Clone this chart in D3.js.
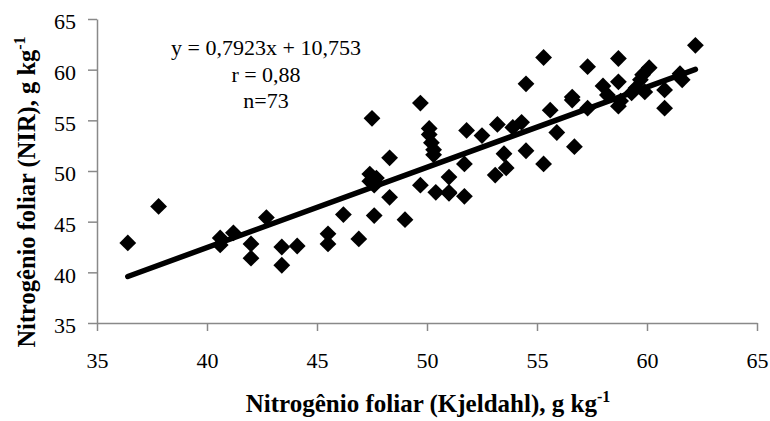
<!DOCTYPE html>
<html>
<head>
<meta charset="utf-8">
<script src="https://cdn.jsdelivr.net/npm/d3@7"></script>
<style>
  html, body { margin: 0; padding: 0; background: #fff; }
  svg { display: block; font-family: "Liberation Serif", "Times New Roman", serif; }
</style>
</head>
<body>
<svg id="chart" width="770" height="421"></svg>
<script>
// Data
const kjeldahl = [36.4, 37.8, 40.6, 40.6, 41.2, 42.0, 42.0, 42.7, 43.4, 43.4,
  44.1, 45.5, 45.5, 46.2, 46.9, 47.4, 47.7, 47.6, 47.6, 47.5,
  48.3, 48.3, 49.0, 49.7, 49.7, 50.1, 50.1, 50.2, 50.3, 50.3,
  50.4, 51.0, 51.0, 51.7, 51.7, 51.8, 52.5, 53.2, 53.9, 54.3,
  53.5, 54.5, 55.3, 53.1, 53.6, 54.5, 55.3, 55.6, 55.9, 56.6,
  56.7, 57.3, 57.3, 58.0, 58.2, 58.7, 58.7, 58.7, 58.8, 59.3,
  59.7, 59.8, 60.1, 59.9, 60.8, 60.8, 61.5, 61.6, 62.2, 59.5,
  56.6, 51.0, 47.4];
const nir = [42.9, 46.5, 43.4, 42.7, 43.9, 42.8, 41.4, 45.4, 42.5, 40.7,
  42.6, 43.8, 42.8, 45.7, 43.3, 49.7, 49.3, 48.6, 45.6, 55.2,
  51.3, 47.4, 45.2, 56.7, 48.6, 54.2, 53.6, 52.8, 52.1, 51.6,
  47.9, 49.4, 47.8, 47.5, 50.7, 54.0, 53.5, 54.6, 54.3, 54.8,
  51.7, 52.0, 50.7, 49.6, 50.3, 58.6, 61.2, 56.0, 53.8, 57.3,
  52.4, 60.3, 56.2, 58.4, 57.5, 61.1, 58.8, 56.4, 56.9, 57.7,
  59.0, 59.5, 60.2, 57.8, 58.0, 56.2, 59.6, 59.0, 62.4, 58.2,
  57.0, 47.9, 49.0];
const xTicks = [35, 40, 45, 50, 55, 60, 65];
const yTicks = [35, 40, 45, 50, 55, 60, 65];
const slope = 0.7923, intercept = 10.753;
const fitRange = [36.4, 62.2];
const annotation = ["y = 0,7923x + 10,753", "r = 0,88", "n=73"];
const xTitle = "Nitrogênio foliar (Kjeldahl), g kg";
const yTitle = "Nitrogênio foliar (NIR), g kg";

const svg = d3.select("#chart");
const margin = {left: 97, right: 13, top: 19, bottom: 98};
const W = 770, H = 421;
const x = d3.scaleLinear().domain([35, 65]).range([margin.left, W - margin.right]);
const y = d3.scaleLinear().domain([35, 65]).range([H - margin.bottom, margin.top]);

const axisColor = "#898989";
const serif = "'Liberation Serif', 'Times New Roman', serif";

// X axis
const gx = svg.append("g").attr("transform", `translate(0,${y(35)})`)
  .call(d3.axisBottom(x).tickValues(xTicks).tickSize(8).tickSizeOuter(0).tickPadding(21));
// Y axis
const gy = svg.append("g").attr("transform", `translate(${x(35)},0)`)
  .call(d3.axisLeft(y).tickValues(yTicks).tickSize(9).tickSizeOuter(0).tickPadding(12));
[gx, gy].forEach(g => {
  g.attr("font-family", serif).attr("font-size", 22);
  g.select(".domain").attr("stroke", axisColor).attr("stroke-width", 1.5);
  g.selectAll(".tick line").attr("stroke", axisColor).attr("stroke-width", 1.5);
  g.selectAll(".tick text").attr("fill", "#000").style("font-size", "22px").style("font-family", serif);
});
gy.selectAll(".tick text").attr("dy", "0.45em");

// Points (diamonds)
const dsz = 8.4;
const diamond = `M0,${-dsz}L${dsz},0L0,${dsz}L${-dsz},0Z`;
svg.append("g").selectAll("path").data(kjeldahl.map((v, i) => [v, nir[i]]))
  .join("path")
  .attr("d", diamond)
  .attr("transform", d => `translate(${x(d[0])},${y(d[1])})`)
  .attr("fill", "#000");

// Regression line
svg.append("line")
  .attr("x1", x(fitRange[0])).attr("y1", y(slope * fitRange[0] + intercept))
  .attr("x2", x(fitRange[1])).attr("y2", y(slope * fitRange[1] + intercept))
  .attr("stroke", "#000").attr("stroke-width", 5.5).attr("stroke-linecap", "round");

// Annotation
const ann = svg.append("text").attr("text-anchor", "middle").style("font-size", "22px").attr("fill", "#000");
annotation.forEach((t, i) => {
  ann.append("tspan").attr("x", 266).attr("y", 55 + i * 26.5).text(t);
});

// X title
const xt = svg.append("text").attr("x", 428).attr("y", 412).attr("text-anchor", "middle")
  .style("font-size", "25px").style("font-weight", "bold").text(xTitle);
xt.append("tspan").attr("dy", -10).style("font-size", "16px").text("-1");

// Y title
const yt = svg.append("text").attr("transform", `translate(35,192) rotate(-90)`).attr("text-anchor", "middle")
  .style("font-size", "24.5px").style("font-weight", "bold").text(yTitle);
yt.append("tspan").attr("dy", -10).style("font-size", "16px").text("-1");
</script>
</body>
</html>
